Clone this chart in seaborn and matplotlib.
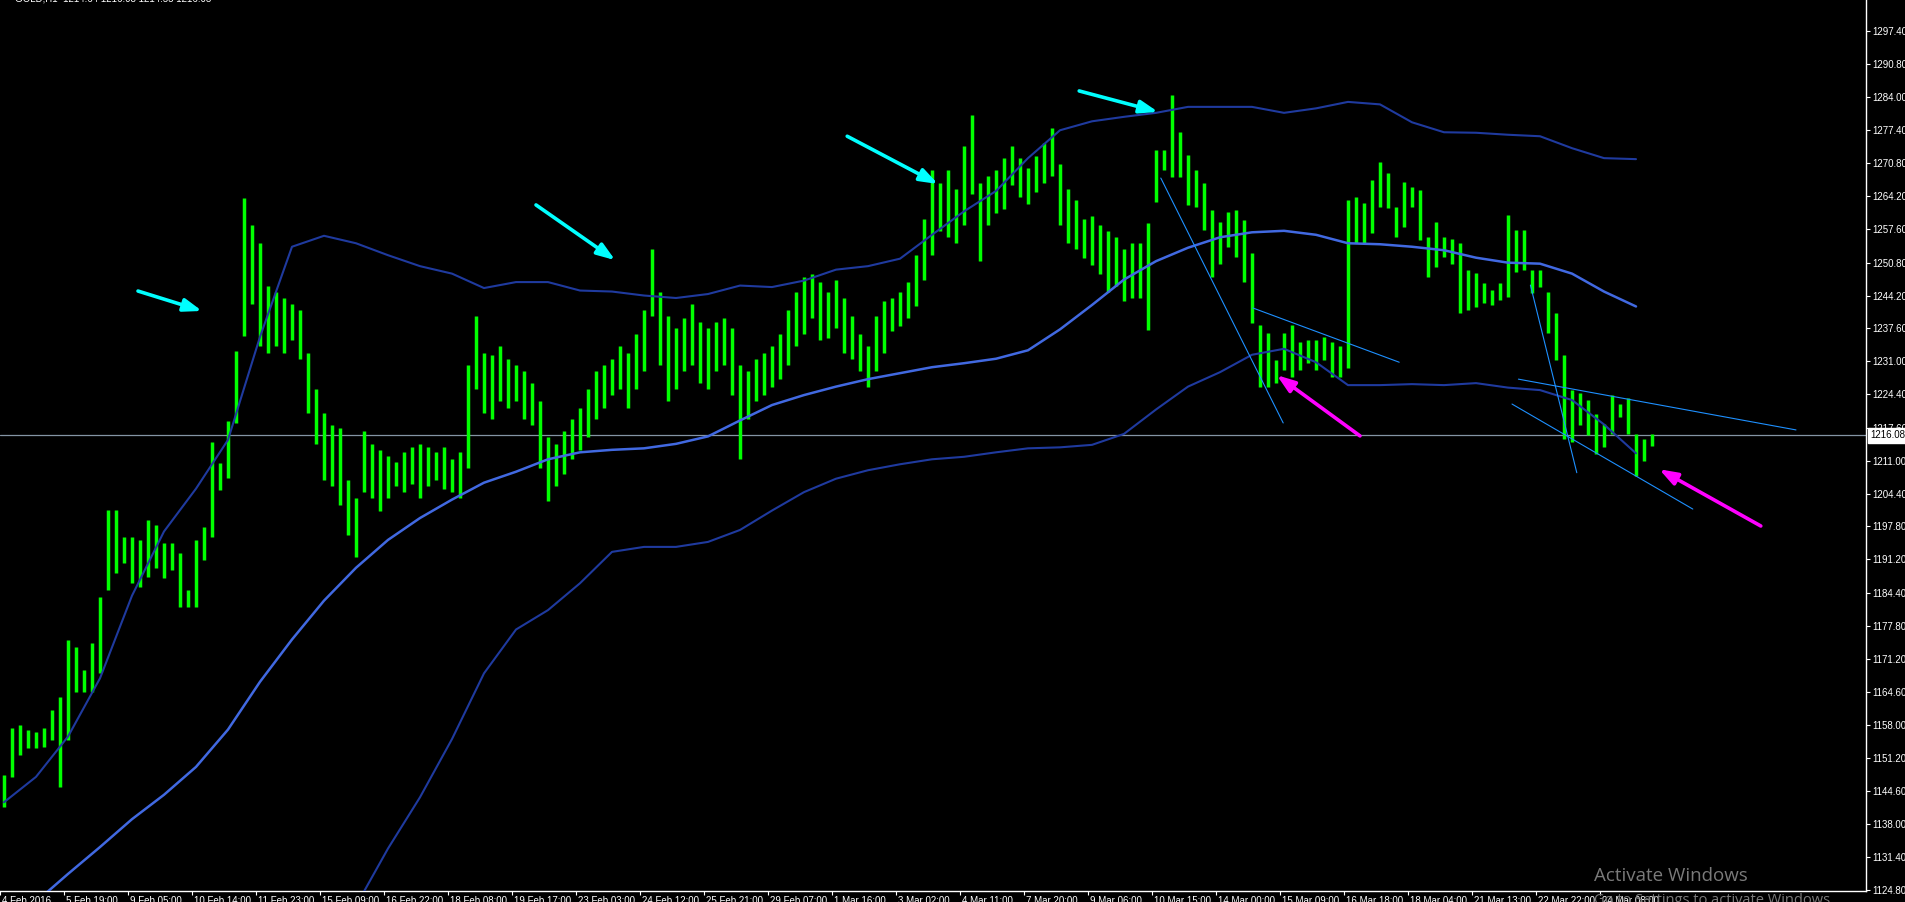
import numpy as np
import pandas as pd
import seaborn as sns
import matplotlib
matplotlib.use("Agg")
import matplotlib.pyplot as plt
import matplotlib.transforms as mtransforms

# ---- data (GOLD H1, one bar here = 4 hourly bars) ----
bar_high = [
    1147.9, 1157.3, 1157.9, 1156.9, 1156.5, 1157.3, 1160.9, 1163.5, 1175.0, 1173.6,
    1169.0, 1174.4, 1183.6, 1201.1, 1201.1, 1195.7, 1195.7, 1195.1, 1199.1, 1198.0,
    1194.5, 1194.5, 1192.5, 1185.0, 1195.1, 1197.7, 1214.8, 1210.6, 1219.0, 1233.0,
    1263.8, 1258.4, 1254.7, 1246.2, 1245.0, 1243.7, 1242.5, 1241.3, 1232.7, 1225.4,
    1220.5, 1218.1, 1217.6, 1207.1, 1203.5, 1216.9, 1214.4, 1213.2, 1212.0, 1210.8,
    1212.7, 1213.7, 1214.4, 1213.7, 1212.7, 1213.7, 1211.3, 1212.7, 1230.3, 1240.1,
    1232.7, 1232.3, 1234.0, 1231.5, 1230.3, 1229.1, 1226.6, 1223.0, 1215.7, 1214.4,
    1216.9, 1219.3, 1221.7, 1225.4, 1229.1, 1230.3, 1231.5, 1234.0, 1232.7, 1236.4,
    1241.3, 1253.5, 1245.0, 1240.1, 1237.6, 1239.6, 1242.5, 1238.9, 1237.6, 1238.9,
    1239.6, 1237.6, 1230.3, 1229.1, 1231.5, 1232.7, 1234.0, 1236.4, 1241.3, 1245.0,
    1247.9, 1248.6, 1246.9, 1245.0, 1247.4, 1243.7, 1240.1, 1236.4, 1234.0, 1240.1,
    1243.0, 1243.7, 1245.0, 1246.9, 1252.3, 1259.6, 1269.4, 1266.9, 1269.4, 1265.7,
    1274.3, 1280.4, 1266.9, 1268.2, 1269.4, 1271.8, 1274.3, 1271.8, 1269.9, 1272.3,
    1274.8, 1277.9, 1270.6, 1265.7, 1263.3, 1259.6, 1260.1, 1258.4, 1257.2, 1256.0,
    1253.5, 1254.7, 1254.8, 1258.8, 1273.4, 1273.4, 1284.5, 1277.0, 1272.4, 1269.4,
    1266.8, 1261.4, 1259.0, 1261.0, 1261.4, 1259.4, 1252.7, 1238.3, 1236.7, 1231.2,
    1236.7, 1238.3, 1234.9, 1235.3, 1235.3, 1235.9, 1234.9, 1234.1, 1263.4, 1264.0,
    1262.8, 1267.4, 1271.0, 1268.8, 1262.0, 1267.0, 1266.0, 1265.4, 1256.0, 1259.0,
    1256.0, 1255.5, 1254.8, 1249.3, 1248.7, 1246.7, 1245.3, 1246.7, 1260.4, 1257.4,
    1257.4, 1249.3, 1249.3, 1245.0, 1240.7, 1232.2, 1225.2, 1224.6, 1223.2, 1220.4,
    1218.4, 1224.2, 1222.4, 1223.6, 1216.4, 1215.4, 1216.4,
]
bar_low = [
    1141.4, 1147.5, 1151.9, 1153.3, 1153.3, 1153.5, 1155.0, 1145.5, 1155.0, 1164.5,
    1164.5, 1164.5, 1168.4, 1185.0, 1188.5, 1190.5, 1186.5, 1185.7, 1187.7, 1189.5,
    1187.5, 1189.1, 1181.6, 1181.6, 1181.6, 1191.1, 1195.7, 1205.1, 1207.5, 1218.5,
    1236.0, 1242.5, 1234.0, 1232.7, 1234.0, 1232.7, 1235.2, 1231.5, 1220.5, 1214.4,
    1207.1, 1205.9, 1202.2, 1196.1, 1191.7, 1204.7, 1203.5, 1201.0, 1203.5, 1205.9,
    1204.7, 1206.4, 1203.5, 1205.9, 1207.1, 1205.4, 1204.7, 1203.5, 1209.6, 1225.4,
    1220.5, 1219.3, 1223.0, 1221.7, 1223.0, 1219.3, 1218.1, 1209.6, 1203.0, 1205.9,
    1208.3, 1211.3, 1213.2, 1215.7, 1219.3, 1221.7, 1224.2, 1225.4, 1221.7, 1225.4,
    1229.1, 1240.1, 1230.3, 1223.0, 1225.4, 1229.1, 1230.3, 1226.6, 1225.4, 1229.1,
    1230.3, 1224.2, 1211.3, 1219.3, 1223.0, 1224.2, 1225.9, 1227.4, 1230.3, 1234.0,
    1236.4, 1239.6, 1235.2, 1235.7, 1237.6, 1232.7, 1231.5, 1229.1, 1225.9, 1229.1,
    1232.7, 1237.1, 1238.1, 1239.6, 1242.0, 1247.4, 1252.3, 1257.2, 1256.0, 1254.7,
    1258.4, 1264.5, 1251.1, 1258.4, 1260.8, 1261.6, 1266.5, 1264.0, 1262.5, 1265.0,
    1266.9, 1268.2, 1258.4, 1254.7, 1253.5, 1251.8, 1250.3, 1248.6, 1245.0, 1246.2,
    1243.0, 1243.7, 1243.7, 1237.3, 1263.0, 1269.4, 1268.0, 1268.0, 1262.4, 1262.0,
    1257.4, 1247.9, 1250.5, 1254.0, 1252.0, 1247.0, 1238.7, 1225.8, 1225.8, 1226.6,
    1229.2, 1227.8, 1229.2, 1230.6, 1229.2, 1231.2, 1227.8, 1227.8, 1229.6, 1254.8,
    1254.8, 1256.8, 1262.0, 1261.8, 1256.0, 1258.0, 1262.0, 1255.4, 1248.0, 1250.0,
    1252.0, 1250.5, 1240.7, 1241.3, 1241.9, 1242.7, 1242.3, 1243.3, 1243.9, 1248.9,
    1249.3, 1244.7, 1246.0, 1236.7, 1231.2, 1215.4, 1214.8, 1218.2, 1216.2, 1212.4,
    1213.8, 1216.4, 1219.8, 1216.4, 1207.9, 1211.0, 1214.0,
]

# band values, one sample every 4 bars
upper_band = [
    1142.4, 1147.5, 1155.6, 1167.3, 1183.9, 1196.8, 1205.4, 1215.2, 1235.9, 1254.0,
    1256.2, 1254.7, 1252.3, 1250.1, 1248.6, 1245.7, 1246.9, 1246.9, 1245.2, 1245.0,
    1244.2, 1243.7, 1244.5, 1246.2, 1245.9, 1247.2, 1249.4, 1250.1, 1251.6, 1256.4,
    1261.1, 1265.2, 1271.8, 1277.4, 1279.2, 1280.1, 1280.9, 1282.1, 1282.1, 1282.1,
    1280.9, 1281.8, 1283.1, 1282.6, 1279.0, 1277.0, 1276.9, 1276.5, 1276.2, 1273.8,
    1271.8, 1271.6,
]
middle_band = [
    1117.0, 1122.4, 1128.0, 1133.4, 1139.0, 1143.9, 1149.5, 1157.0, 1166.6, 1175.1,
    1182.9, 1189.5, 1195.1, 1199.5, 1203.2, 1206.6, 1208.8, 1211.3, 1212.7, 1213.2,
    1213.5, 1214.4, 1215.9, 1219.1, 1222.2, 1224.2, 1225.9, 1227.4, 1228.6, 1229.8,
    1230.6, 1231.5, 1233.2, 1237.4, 1242.3, 1247.4, 1251.1, 1253.8, 1255.9, 1256.9,
    1257.2, 1256.4, 1254.7, 1254.5, 1254.0, 1253.3, 1251.8, 1250.8, 1250.6, 1248.6,
    1245.0, 1242.0,
]
lower_band = [np.nan] * 11 + [
    1121.6, 1133.1, 1143.4, 1155.1, 1168.3, 1177.1, 1181.0, 1186.4, 1192.7, 1193.7,
    1193.7, 1194.7, 1197.1, 1201.0, 1204.7, 1207.4, 1209.1, 1210.3, 1211.3, 1211.8,
    1212.7, 1213.5, 1213.7, 1214.2, 1216.4, 1221.3, 1225.9, 1228.8, 1232.3, 1233.5,
    1230.8, 1226.2, 1226.2, 1226.4, 1226.2, 1226.6, 1225.7, 1225.2, 1223.2, 1218.3,
    1212.5,
]

time_labels = [
    "4 Feb 2016", "5 Feb 19:00", "9 Feb 05:00", "10 Feb 14:00", "11 Feb 23:00",
    "15 Feb 09:00", "16 Feb 22:00", "18 Feb 08:00", "19 Feb 17:00", "23 Feb 03:00",
    "24 Feb 12:00", "25 Feb 21:00", "29 Feb 07:00", "1 Mar 16:00", "3 Mar 02:00",
    "4 Mar 11:00", "7 Mar 20:00", "9 Mar 06:00", "10 Mar 15:00", "14 Mar 00:00",
    "15 Mar 09:00", "16 Mar 18:00", "18 Mar 04:00", "21 Mar 13:00", "22 Mar 22:00",
    "24 Mar 08:00",
]
price_labels = [
    "1297.40", "1290.80", "1284.00", "1277.40", "1270.80", "1264.20", "1257.60",
    "1250.80", "1244.20", "1237.60", "1231.00", "1224.40", "1217.60", "1211.00",
    "1204.40", "1197.80", "1191.20", "1184.40", "1177.80", "1171.20", "1164.60",
    "1158.00", "1151.20", "1144.60", "1138.00", "1131.40", "1124.80",
]
last_price = 1216.08
header = "GOLD,H1  1214.64 1216.08 1214.55 1216.08"

# hand drawn objects: (bar, price) -> (bar, price)
trend_lines = [
    [(145.1, 1267.8), (160.4, 1218.6)],
    [(156.6, 1241.7), (174.9, 1230.8)],
    [(189.8, 1227.4), (224.5, 1217.2)],
    [(189.0, 1222.4), (211.6, 1201.3)],
    [(191.3, 1246.3), (197.1, 1208.6)],
]
cyan_arrows = [  # tail -> head
    [(17.25, 1245.1), (25.25, 1241.1)],
    [(67.0, 1262.4), (76.9, 1251.3)],
    [(105.9, 1276.2), (117.25, 1266.6)],
    [(134.9, 1285.3), (144.75, 1281.1)],
]
magenta_arrows = [
    [(170.0, 1216.0), (159.6, 1228.2)],
    [(220.1, 1197.9), (207.4, 1209.3)],
]

bars = pd.DataFrame({"bar": np.arange(len(bar_high)) + 0.5,
                     "high": bar_high, "low": bar_low})
bands = pd.DataFrame({"bar": np.arange(len(upper_band)) * 4 + 0.5,
                      "upper": upper_band, "middle": middle_band,
                      "lower": lower_band})

sns.set_theme(style="dark", rc={"axes.facecolor": "black",
                                "figure.facecolor": "black"})
plt.rcParams["font.family"] = ["Liberation Sans", "DejaVu Sans"]

W, H = 1906, 902
fig = plt.figure(figsize=(W / 100, H / 100), dpi=100)
ax = fig.add_axes([0, 11 / H, 1866 / W, 891 / H])
ax.set_facecolor("black")
ax.grid(False)

# price bars
ax.vlines(bars["bar"], bars["low"], bars["high"], color="#00ff00", lw=2.5, zorder=2)

# bands
sns.lineplot(data=bands, x="bar", y="upper", ax=ax, color="#1f3a9e",
             linewidth=1.5, estimator=None, zorder=3)
sns.lineplot(data=bands, x="bar", y="middle", ax=ax, color="#4169e1",
             linewidth=1.8, estimator=None, zorder=3)
sns.lineplot(data=bands.dropna(subset=["lower"]), x="bar", y="lower", ax=ax,
             color="#1f3a9e", linewidth=1.5, estimator=None, zorder=3)

# bid line
ax.axhline(last_price, color="#8494a4", lw=0.9, zorder=1)

for (x0, p0), (x1, p1) in trend_lines:
    ax.plot([x0, x1], [p0, p1], color="#1e90ff", lw=0.8, zorder=4)

for arrows, col in ((cyan_arrows, "#00ffff"), (magenta_arrows, "#ff00ff")):
    for tail, head in arrows:
        ax.annotate("", xy=head, xytext=tail,
                    arrowprops=dict(arrowstyle="-|>,head_length=0.9,head_width=0.32",
                                    color=col, lw=2.6, shrinkA=0, shrinkB=0),
                    zorder=5)

ax.set_xlim(0, 1866 / 8)
ax.set_ylim(1124.57, 1303.57)
ax.set_xlabel("")
ax.set_ylabel("")

for side in ("left", "top"):
    ax.spines[side].set_visible(False)
for side in ("right", "bottom"):
    ax.spines[side].set_visible(True)
    ax.spines[side].set_color("white")
    ax.spines[side].set_linewidth(1.0)

ax.set_yticks([float(p) for p in price_labels])
ax.set_yticklabels(price_labels)
ax.set_xticks(np.arange(len(time_labels)) * 8)
ax.set_xticklabels(time_labels)
ax.tick_params(axis="y", left=False, right=True, labelleft=False, labelright=True,
               colors="white", labelsize=7, length=3, width=0.8, pad=1.5,
               direction="out")
ax.tick_params(axis="x", bottom=True, colors="white", labelsize=7, length=3,
               width=0.8, pad=0.5, direction="out")
shift = mtransforms.ScaledTranslation(2 / 100, 0, fig.dpi_scale_trans)
for lab in ax.get_xticklabels():
    lab.set_horizontalalignment("left")
    lab.set_transform(lab.get_transform() + shift)

# last price tag on the scale
tag_tr = mtransforms.blended_transform_factory(ax.transAxes, ax.transData) + \
    mtransforms.ScaledTranslation(4 / 100, 0, fig.dpi_scale_trans)
ax.text(1.0, last_price, f"{last_price:.2f}", transform=tag_tr, ha="left",
        va="center", color="black", fontsize=7, clip_on=False, zorder=10,
        bbox=dict(boxstyle="square,pad=0.22", fc="white", ec="white"))

fig.text(15 / W, 1 + 1 / H, header, ha="left", va="center", color="white",
         fontsize=7)
fig.text(1594 / W, 1 - 876 / H, "Activate Windows", ha="left", va="center",
         color="#7a7a7a", fontsize=13.5, family=["Open Sans", "DejaVu Sans"])
fig.text(1594 / W, 1 - 901 / H, "Go to Settings to activate Windows.", ha="left",
         va="center", color="#7a7a7a", fontsize=10.5,
         family=["Open Sans", "DejaVu Sans"])

fig.savefig("out.png", dpi=100, facecolor="black")
